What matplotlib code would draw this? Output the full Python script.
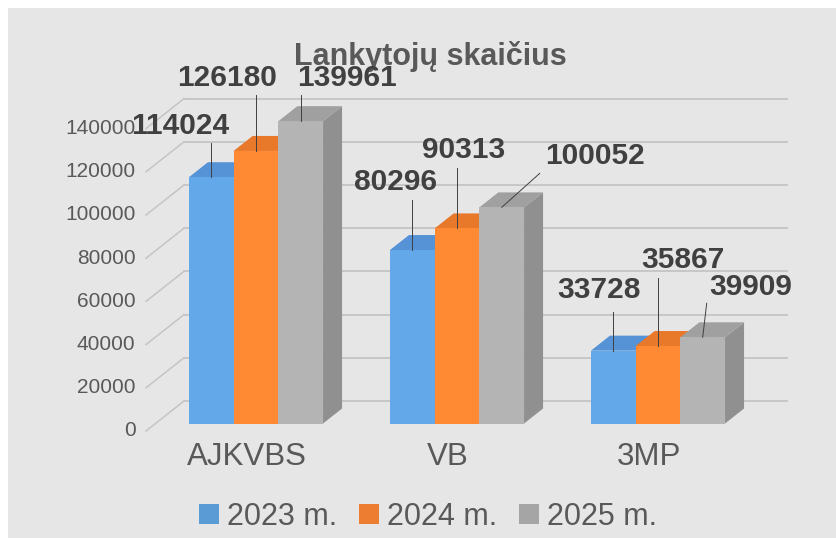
import matplotlib
matplotlib.use('Agg')
import matplotlib.pyplot as plt
from matplotlib.patches import Polygon, Rectangle, Patch

plt.rcParams['font.family'] = ['Liberation Sans', 'DejaVu Sans']

# duomenys
categories = ['AJKVBS', 'VB', '3MP']
series_names = ['2023 m.', '2024 m.', '2025 m.']
v2023 = [114024, 80296, 33728]
v2024 = [126180, 90313, 35867]
v2025 = [139961, 100052, 39909]
ticks = [0, 20000, 40000, 60000, 80000, 100000, 120000, 140000]
title = 'Lankytojų skaičius'

values = [v2023, v2024, v2025]

# spalvos: priekis, virsus, sonas, legenda
front_c = ['#63a8e8', '#ff8a33', '#b4b4b4']
top_c = ['#5592d6', '#e8782a', '#a0a0a0']
side_c = ['#4f86c4', '#d06a22', '#909090']
leg_c = ['#5b9bd5', '#ed7d31', '#a5a5a5']
txt_c = '#595959'

W, H = 837, 538
PX_CAT = 201.0      # px per category
PX_VAL = 0.00216    # px per value unit
X0 = 246.5          # px of category 0 at depth 0
Y0 = 431.0          # px of value 0 at depth 0
DX = 38 / PX_CAT    # full depth offset (category units)
DV = 30 / PX_VAL    # full depth offset (value units)
BW = 44.7 / PX_CAT  # bar width


def P(x, v, d):
    return (x + d * DX, v + d * DV)


def px2d(dx, dy):
    # pixel offset -> data offset (y down)
    return dx / PX_CAT, -dy / PX_VAL


fig = plt.figure(figsize=(W / 100, H / 100), dpi=100, facecolor='white')
fig.patches.append(Rectangle((8 / W, 0), 1, (H - 8) / H, transform=fig.transFigure,
                             facecolor='#e6e6e6', edgecolor='none', zorder=-5))
ax = fig.add_axes([0, 0, 1, 1])
ax.set_xlim((0 - X0) / PX_CAT, (W - X0) / PX_CAT)
ax.set_ylim((Y0 - H) / PX_VAL, Y0 / PX_VAL)
ax.axis('off')
ax.patch.set_visible(False)

# tinklelis ant galines sienos ir sonines sienos
for t in ticks:
    a = P(-0.5, t, 1)
    b = P(len(categories) - 0.5, t, 1)
    ax.plot([a[0], b[0]], [a[1], b[1]], color='#c4c4c4', lw=1.3, zorder=1)
    c = P(-0.5, t, 0)
    ax.plot([c[0], a[0]], [c[1], a[1]], color='#c4c4c4', lw=1.1, zorder=1)
    ax.annotate(str(t), xy=c, xytext=(-7.5, 0), textcoords='offset points',
                ha='right', va='center', fontsize=15, color=txt_c)

# stulpeliai
z = 2
for i in range(len(categories)):
    for j in range(3):
        v = values[j][i]
        xl = i + (j - 1.5) * BW
        xr = xl + BW
        side = [P(xr, 0, 0.25), P(xr, v, 0.25), P(xr, v, 0.75), P(xr, 0, 0.75)]
        top = [P(xl, v, 0.25), P(xr, v, 0.25), P(xr, v, 0.75), P(xl, v, 0.75)]
        front = [P(xl, 0, 0.25), P(xr, 0, 0.25), P(xr, v, 0.25), P(xl, v, 0.25)]
        ax.add_patch(Polygon(side, closed=True, facecolor=side_c[j], edgecolor='none', zorder=z))
        ax.add_patch(Polygon(top, closed=True, facecolor=top_c[j], edgecolor='none', zorder=z))
        ax.add_patch(Polygon(front, closed=True, facecolor=front_c[j], edgecolor='none', zorder=z))
        z += 0.1

# kategoriju pavadinimai
for i, cat in enumerate(categories):
    ax.annotate(cat, xy=P(i, 0, 0), xytext=(0, -19), textcoords='offset points',
                ha='center', va='center', fontsize=22.5, color=txt_c)

# pavadinimas
ax.text(0.514, (H - 65) / H, title, ha='center', va='baseline', fontsize=22,
        fontweight='bold', color=txt_c, zorder=3, transform=ax.transAxes)

# reiksmiu etiketes: teksto centras ir linijos pradzia (px nuo stulpelio virsaus)
label_off = [[(-31, -51), (-17, -68), (-14, -61)],
             [(-29, -73), (7, -78), (25, -86)],
             [(46, -43), (93, -51), (48, -50)]]
leader_off = [[(0, -34), (0, -50), (0, -39)],
              [(0, -56), (0, -60), (0, -68)],
              [(0, -26), (38, -34), (4, -34)]]
for j in range(3):
    for i in range(len(categories)):
        v = values[j][i]
        xc = i + (j - 1) * BW
        ax_, av = P(xc, v, 0.25)
        lx, lv = px2d(*leader_off[j][i])
        ax.plot([ax_, ax_ + lx], [av, av + lv], color='#404040', lw=0.7, zorder=10)
        tx, tv = px2d(*label_off[j][i])
        ax.text(ax_ + tx, av + tv, str(v), ha='center', va='center', fontsize=21.5,
                fontweight='bold', color='#404040', zorder=11)

# legenda
handles = [Patch(facecolor=leg_c[k], edgecolor='none') for k in range(3)]
fig.legend(handles, series_names, loc='center', bbox_to_anchor=(428 / W, (H - 517) / H),
           ncol=3, frameon=False, fontsize=22, handlelength=0.65, handleheight=0.65,
           handletextpad=0.28, columnspacing=0.7, labelcolor=txt_c)

plt.savefig('out.png', dpi=100, facecolor=fig.get_facecolor())
